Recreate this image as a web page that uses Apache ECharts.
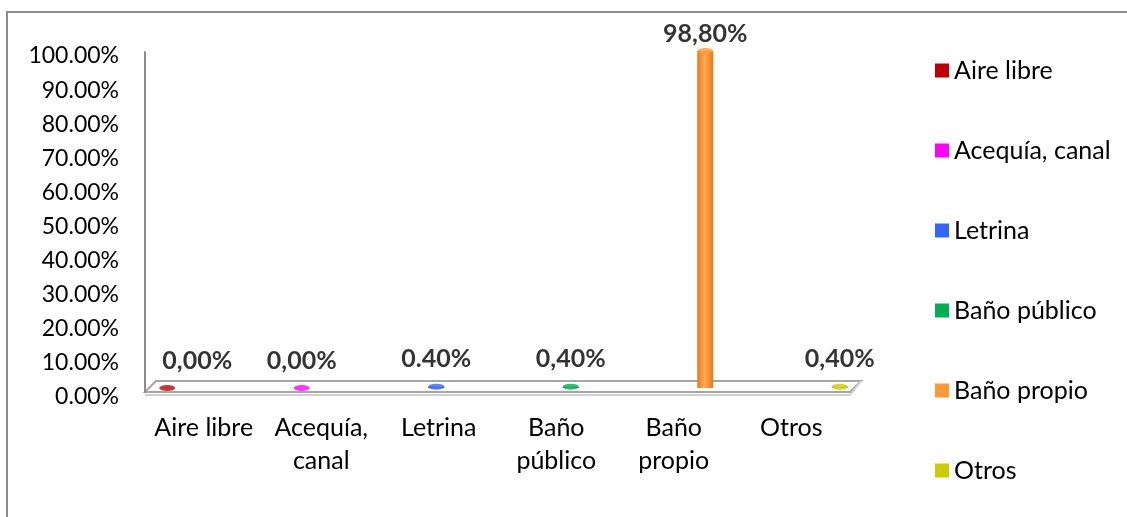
<!DOCTYPE html>
<html lang="es">
  <head>
    <meta charset="UTF-8" />
    <title>Chart</title>
    <script src="https://cdn.jsdelivr.net/npm/echarts@6/dist/echarts.min.js"></script>
    <style>
      html,
      body {
        width: 100%;
        height: 100%;
        margin: 0;
        padding: 0;
        background: #fff;
        overflow: hidden;
      }
      #frame {
        position: absolute;
        left: 6px;
        top: 11px;
        width: 1200px;
        height: 600px;
        border-left: 2px solid #8c8c8c;
        border-top: 2px solid #8c8c8c;
      }
      #main {
        position: absolute;
        left: 0;
        top: 0;
        width: 1127px;
        height: 517px;
      }
    </style>
  </head>
  <body>
    <div id="frame"></div>
    <div id="main"></div>
    <script type="text/javascript">
      // datos
      var categories = ["Aire libre", "Acequía, canal", "Letrina", "Baño público", "Baño propio", "Otros"];
      var tickLabels = ["Aire libre", "Acequía,\ncanal", "Letrina", "Baño\npúblico", "Baño\npropio", "Otros"];
      var values = [0, 0, 0.4, 0.4, 98.8, 0.4];
      var labelTexts = ["0,00%", "0,00%", "0.40%", "0,40%", "98,80%", "0,40%"];
      var colors = ["#C00000", "#FF00FF", "#3366FF", "#00B050", "#FF9933", "#CCCC00"];
      var darkColors = ["#9a0000", "#c000c0", "#2650d0", "#008a40", "#e67a18", "#a8a800"];
      var lightColors = ["#e04040", "#ff70ff", "#6690ff", "#40d080", "#ffaa55", "#e6e640"];

      var font = "Lato, 'Open Sans', sans-serif";
      var myChart = echarts.init(document.getElementById("main"));

      // piso 3D (decoración)
      var fl = 145, fr = 850, fy = 392, depth = 11;

      var series = [];
      categories.forEach(function (name, i) {
        series.push({
          name: name,
          type: "bar",
          xAxisIndex: 1,
          yAxisIndex: 1,
          stack: "v",
          barWidth: 16,
          data: values.map(function (v, j) {
            return j === i ? v : null;
          }),
          itemStyle: {
            color: new echarts.graphic.LinearGradient(0, 0, 1, 0, [
              { offset: 0, color: darkColors[i] },
              { offset: 0.45, color: lightColors[i] },
              { offset: 1, color: darkColors[i] },
            ]),
          },
        });
      });
      // tapas de los cilindros + etiquetas
      series.push({
        name: "tapas",
        type: "scatter",
        xAxisIndex: 1,
        yAxisIndex: 1,
        symbol: "circle",
        symbolSize: [16, 6],
        z: 5,
        data: values.map(function (v, i) {
          return {
            value: v,
            itemStyle: { color: colors[i] },
            label: {
              offset: i === 0 ? [30, -10] : v > 50 ? [0, 0] : [0, -10],
            },
          };
        }),
        label: {
          show: true,
          position: "top",
          distance: 2,
          fontFamily: font,
          fontWeight: "bold",
          fontSize: 25,
          color: "#000",
          formatter: function (p) {
            return labelTexts[p.dataIndex];
          },
        },
      });

      option = {
        animation: false,
        color: colors,
        grid: [
          { left: fl, right: 1127 - fr, top: 52, bottom: 517 - fy },
          { left: 100, right: 220, top: 47, bottom: 129 },
          { left: fl, right: 1127 - fr, top: 56, bottom: 517 - fy - 5 },
        ],
        legend: {
          orient: "vertical",
          left: 930,
          top: 53,
          itemWidth: 14,
          itemHeight: 14,
          itemGap: 55,
          icon: "rect",
          data: categories.map(function (n, i) {
            return { name: n, itemStyle: { color: colors[i] } };
          }),
          textStyle: { fontFamily: font, fontSize: 25, color: "#000", lineHeight: 25 },
        },
        xAxis: [
          {
            type: "category",
            gridIndex: 0,
            data: tickLabels,
            axisLine: { show: false },
            axisTick: { show: false },
            axisLabel: {
              interval: 0,
              hideOverlap: false,
              margin: 19,
              fontFamily: font,
              fontSize: 25,
              lineHeight: 33,
              color: "#000",
            },
          },
          {
            type: "category",
            gridIndex: 1,
            data: categories,
            show: false,
          },
          {
            type: "category",
            gridIndex: 2,
            data: categories,
            show: false,
          },
        ],
        yAxis: [
          {
            type: "value",
            gridIndex: 0,
            min: 0,
            max: 100,
            interval: 10,
            axisLine: { show: true, lineStyle: { color: "#8c8c8c", width: 2 } },
            axisTick: { show: false },
            splitLine: { show: false },
            axisLabel: { show: false },
          },
          {
            type: "value",
            gridIndex: 1,
            min: 0,
            max: 100,
            show: false,
          },
          {
            type: "value",
            gridIndex: 2,
            min: 0,
            max: 100,
            interval: 10,
            axisLine: { show: false },
            axisTick: { show: false },
            splitLine: { show: false },
            axisLabel: {
              margin: 26,
              fontFamily: font,
              fontSize: 23,
              color: "#000",
              formatter: function (v) {
                return v.toFixed(2) + "%";
              },
            },
          },
        ],
        graphic: [
          {
            type: "polygon",
            z: 0,
            shape: {
              points: [
                [fl, fy],
                [fr, fy],
                [fr + depth, fy - depth],
                [fl + depth, fy - depth],
              ],
            },
            style: { fill: "#fff", stroke: "#a6a6a6", lineWidth: 2 },
          },
          {
            type: "polyline",
            z: 0,
            shape: { points: [[fl, fy + 3], [fr, fy + 3], [fr + depth, fy - depth]] },
            style: { stroke: "#d0d0d0", lineWidth: 2, fill: null },
          },
        ],
        series: series,
      };
      myChart.setOption(option);
    </script>
  </body>
</html>
